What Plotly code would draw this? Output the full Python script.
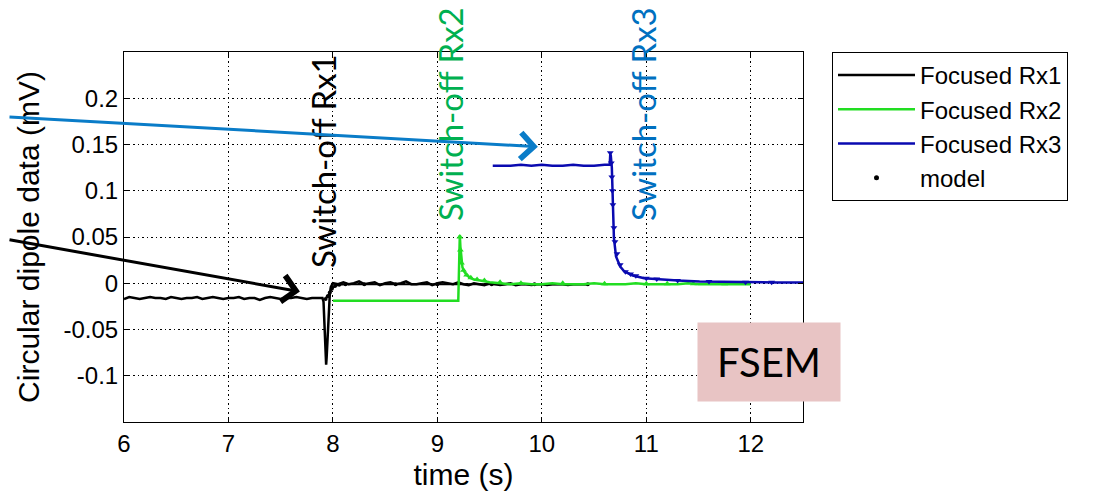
import numpy as np
import plotly.graph_objects as go

# ---------------- data ----------------
# Focused Rx1 (black) : before switch-off, spike, after switch-off
t1_pre = np.round(np.arange(6.00, 7.901, 0.05), 3)
rx1_pre = [-0.017, -0.015, -0.016, -0.017, -0.016, -0.015, -0.016, -0.016, -0.017, -0.015,
           -0.016, -0.017, -0.016, -0.016, -0.015, -0.017, -0.016, -0.015, -0.016, -0.017,
           -0.016, -0.016, -0.015, -0.017, -0.016, -0.016, -0.018, -0.016, -0.015, -0.016,
           -0.017, -0.016, -0.016, -0.015, -0.016, -0.017, -0.016, -0.016, -0.016]
t1_spk = [7.91, 7.92, 7.925, 7.93, 7.935, 7.94, 7.95, 7.96, 7.97, 7.98, 7.99, 8.00]
rx1_spk = [-0.020, -0.045, -0.070, -0.085, -0.088, -0.080, -0.055, -0.030, -0.012, -0.004, -0.001, 0.000]
t1_post = np.round(np.arange(8.05, 10.451, 0.05), 3)
rx1_post = [-0.001, 0.001, -0.001, 0.000, 0.002, -0.001, 0.000, 0.001, -0.002, 0.000,
            0.001, -0.001, 0.000, 0.002, -0.001, -0.001, 0.000, 0.001, -0.002, 0.000,
            0.001, 0.000, -0.001, 0.001, -0.001, -0.002, 0.000, -0.001, -0.002, 0.000,
            -0.001, -0.002, -0.001, 0.000, -0.002, -0.001, -0.001, -0.002, -0.001, -0.001,
            -0.002, -0.001, -0.001, -0.001, -0.002, -0.001, -0.001, -0.001, -0.001]

# Focused Rx2 (green)
t2_head = [8.00, 9.20, 9.21, 9.215, 9.22, 9.23, 9.24, 9.26, 9.28, 9.31, 9.35, 9.41, 9.50]
rx2_head = [-0.019, -0.019, 0.030, 0.052, 0.040, 0.024, 0.017, 0.012, 0.009, 0.006, 0.004, 0.003, 0.001]
t2_tail = np.round(np.arange(9.6, 12.001, 0.1), 3)
rx2_tail = [0.000, -0.001, 0.000, -0.001, -0.001, 0.000, -0.001, -0.001, -0.001, 0.000,
            -0.001, -0.001, -0.001, 0.000, -0.001, -0.001, -0.001, -0.001, 0.000, -0.001,
            -0.001, -0.001, -0.001, -0.001, -0.001]

# Focused Rx3 (blue)
t3 = [9.53, 9.6, 9.7, 9.8, 9.9, 10.0, 10.1, 10.2, 10.3, 10.4, 10.5, 10.6, 10.65,
      10.655, 10.66, 10.67, 10.675, 10.685, 10.69, 10.71, 10.75, 10.79, 10.87, 10.98,
      11.13, 11.3, 11.51, 11.75, 11.99, 12.25, 12.5]
rx3 = [0.127, 0.127, 0.127, 0.128, 0.127, 0.128, 0.127, 0.127, 0.128, 0.127, 0.127, 0.128, 0.128,
       0.140, 0.138, 0.125, 0.100, 0.065, 0.049, 0.029, 0.018, 0.0127, 0.0084, 0.0054,
       0.004, 0.003, 0.002, 0.0015, 0.001, 0.0008, 0.0008]

# model points
tm1 = [7.93, 7.95, 7.97, 7.99, 8.02, 8.06, 8.12, 8.3, 8.6, 9.0, 9.52, 9.93, 10.44]
m1 = [-0.017, -0.014, -0.010, -0.006, -0.003, -0.0015, -0.001, -0.001, -0.001, -0.001, -0.001, -0.001, -0.001]
tm2 = [9.215, 9.22, 9.23, 9.25, 9.28, 9.32, 9.38, 9.45, 9.6, 9.8, 10.2, 10.6, 11.0, 11.2, 11.45, 11.75]
m2 = [0.050, 0.036, 0.022, 0.014, 0.009, 0.006, 0.004, 0.003, 0.001, 0.000, 0.000, -0.0005,
      -0.0005, -0.0005, -0.0005, -0.0005]
tm3 = [10.655, 10.665, 10.67, 10.675, 10.68, 10.69, 10.70, 10.72, 10.75, 10.8, 10.85, 10.9,
       11.0, 11.1, 11.3, 11.6, 11.95, 12.2]
m3 = [0.141, 0.13, 0.115, 0.10, 0.085, 0.06, 0.045, 0.032, 0.02, 0.0125, 0.010, 0.008,
      0.0055, 0.0045, 0.003, 0.002, 0.001, 0.001]

x_ticks = [6, 7, 8, 9, 10, 11, 12]
y_ticks = [-0.1, -0.05, 0, 0.05, 0.1, 0.15, 0.2]
y_ticktext = ["-0.1", "-0.05", "0", "0.05", "0.1", "0.15", "0.2"]

BLACK = "#000000"
GREEN = "#22DD22"
BLUE = "#0A0AB0"

# ---------------- figure ----------------
fig = go.Figure()

fig.add_trace(go.Scatter(
    x=list(t1_pre) + t1_spk + list(t1_post), y=rx1_pre + rx1_spk + rx1_post,
    mode="lines", line=dict(color=BLACK, width=2.5), name="Focused Rx1"))
fig.add_trace(go.Scatter(
    x=tm1, y=m1, mode="lines+markers", line=dict(color=BLACK, width=2),
    marker=dict(color=BLACK, size=4), showlegend=False))

fig.add_trace(go.Scatter(
    x=t2_head + list(t2_tail), y=rx2_head + rx2_tail,
    mode="lines", line=dict(color=GREEN, width=2.5), name="Focused Rx2"))
fig.add_trace(go.Scatter(
    x=tm2, y=m2, mode="markers", marker=dict(color=GREEN, size=6, symbol="triangle-up"),
    showlegend=False))

fig.add_trace(go.Scatter(
    x=t3, y=rx3, mode="lines", line=dict(color=BLUE, width=2.5), name="Focused Rx3"))
fig.add_trace(go.Scatter(
    x=tm3, y=m3, mode="markers", marker=dict(color=BLUE, size=6, symbol="triangle-down"),
    showlegend=False))

fig.add_trace(go.Scatter(
    x=[None], y=[None], mode="markers", marker=dict(color=BLACK, size=5),
    name="model"))

# page offset of the figure (default body margin of the html page)
OFF = 8
W, H = 1105 - OFF, 494 - OFF
PL, PR, PT, PB = 124, 803, 52, 422   # plot area in page pixels
L, T = PL - OFF, PT - OFF
R, B = W - (PR - OFF), H - (PB - OFF)
pw, ph = PR - PL, PB - PT


def px(xp):
    return (xp - PL) / pw


def py(yp):
    return (PB - yp) / ph


axis_common = dict(
    showline=True, linecolor="black", linewidth=1, mirror="ticks",
    ticks="inside", ticklen=5, tickcolor="black",
    showgrid=True, gridcolor="#000000", griddash="1.5px,3px", gridwidth=1,
    zeroline=False,
    tickfont=dict(family="Arial, Liberation Sans", size=24, color="black"),
)

fig.update_xaxes(
    range=[6, 12.5], tickvals=x_ticks, ticktext=[str(v) for v in x_ticks],
    title=dict(text="time (s)", font=dict(family="Arial, Liberation Sans", size=30, color="black"),
               standoff=8),
    **axis_common)
fig.update_yaxes(
    range=[-0.15, 0.25], tickvals=y_ticks, ticktext=y_ticktext,
    title=dict(text="Circular dipole data (mV)",
               font=dict(family="Arial, Liberation Sans", size=30, color="black"), standoff=14),
    **axis_common)

ann_font = "Lato, Open Sans, sans-serif"
annotations = [
    dict(x=px(323), y=py(161), xref="paper", yref="paper", text="Switch-off Rx1",
         textangle=-90, showarrow=False, xanchor="center", yanchor="middle",
         font=dict(family=ann_font, size=33, color="#000000")),
    dict(x=px(450), y=py(114), xref="paper", yref="paper", text="Switch-off Rx2",
         textangle=-90, showarrow=False, xanchor="center", yanchor="middle",
         font=dict(family=ann_font, size=33, color="#00B050")),
    dict(x=px(643), y=py(114), xref="paper", yref="paper", text="Switch-off Rx3",
         textangle=-90, showarrow=False, xanchor="center", yanchor="middle",
         font=dict(family=ann_font, size=33, color="#0070C0")),
    # arrows
    dict(x=7.684, y=-0.009, xref="x", yref="y", ax=-300, ay=-52, text="",
         showarrow=True, arrowhead=4, arrowsize=1.7, arrowwidth=3, arrowcolor="#000000"),
    dict(x=9.962, y=0.1475, xref="x", yref="y", ax=-538, ay=-30, text="",
         showarrow=True, arrowhead=4, arrowsize=1.7, arrowwidth=3, arrowcolor="#0A7CC8"),
    # FSEM label box
    dict(x=px(769), y=py(362), xref="paper", yref="paper", text="FSEM",
         showarrow=False, bgcolor="#E8C4C4", width=142, height=78, borderpad=0,
         xanchor="center", yanchor="middle",
         font=dict(family=ann_font, size=40, color="#000000")),
]

fig.update_layout(
    width=W, height=H,
    margin=dict(l=L, r=R, t=T, b=B, autoexpand=False),
    paper_bgcolor="white", plot_bgcolor="white",
    showlegend=True,
    legend=dict(x=px(832), y=1.0, xanchor="left", yanchor="top",
                bordercolor="black", borderwidth=1, bgcolor="white",
                font=dict(family="Arial, Liberation Sans", size=24, color="black"),
                itemwidth=77, traceorder="normal"),
    annotations=annotations,
)

fig.write_html("out.html")
